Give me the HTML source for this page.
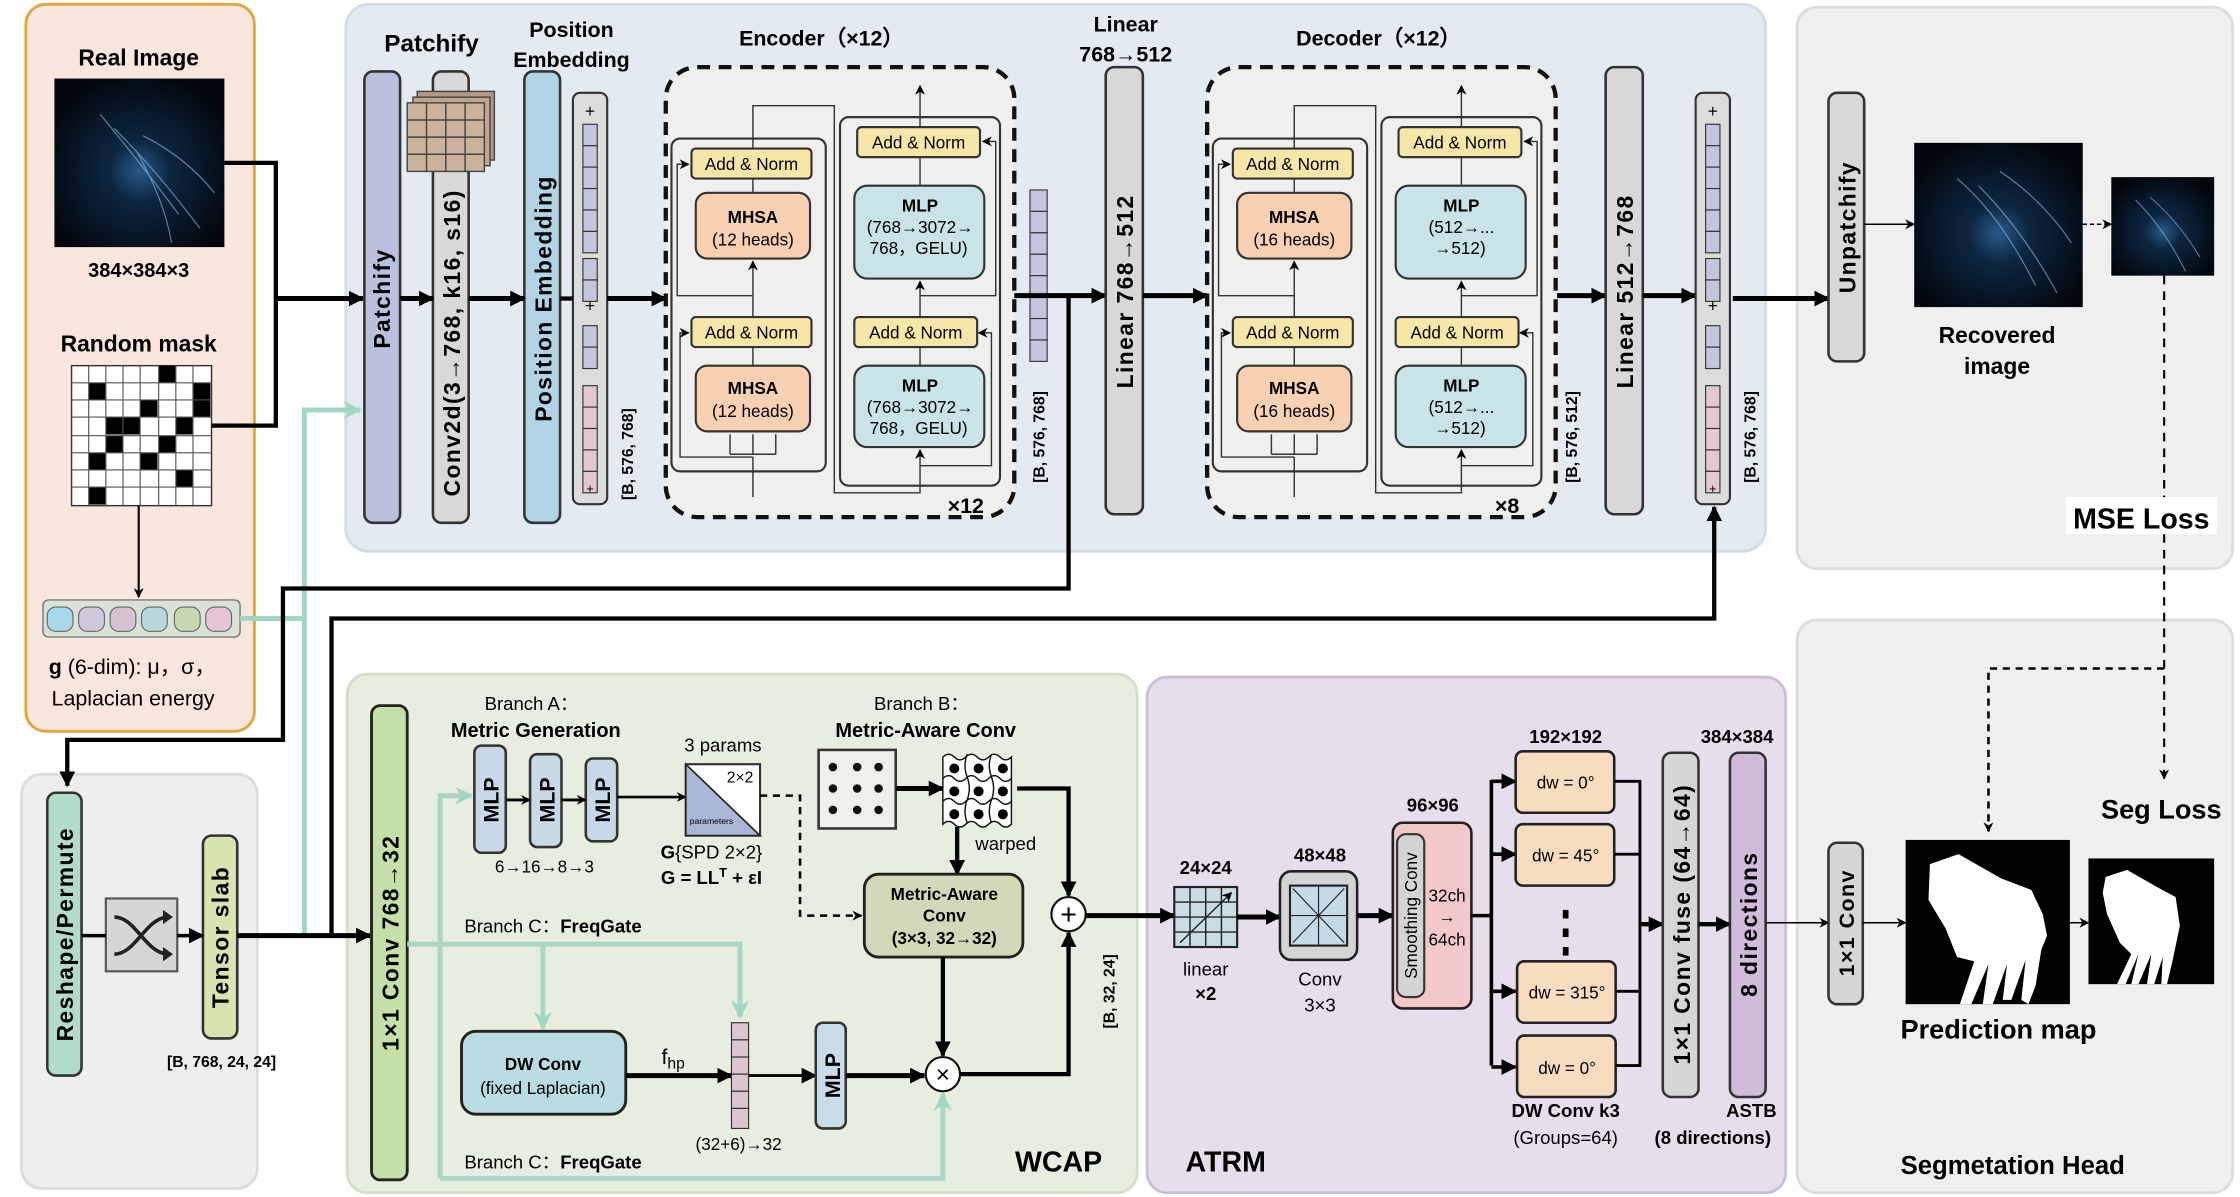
<!DOCTYPE html>
<html><head><meta charset="utf-8"><style>
html,body{margin:0;padding:0;background:#fff;}
svg{display:block;font-family:"Liberation Sans",Arial,sans-serif;}
.b{font-weight:bold;}
</style></head><body>
<svg width="2240" height="1197" viewBox="0 0 1568 838" xmlns="http://www.w3.org/2000/svg">
<defs>
<marker id="A" viewBox="0 0 10 10" refX="9" refY="5" markerWidth="11" markerHeight="11" markerUnits="userSpaceOnUse" orient="auto"><path d="M0,0 L10,5 L0,10 z" fill="#000"/></marker>
<marker id="a" viewBox="0 0 10 10" refX="9" refY="5" markerWidth="7" markerHeight="7" markerUnits="userSpaceOnUse" orient="auto"><path d="M0,0 L10,5 L0,10 L3,5 z" fill="#000"/></marker>
<marker id="G" viewBox="0 0 10 10" refX="9" refY="5" markerWidth="13" markerHeight="13" markerUnits="userSpaceOnUse" orient="auto"><path d="M0,0 L10,5 L0,10 L3,5 z" fill="#9fd8c2"/></marker>
<radialGradient id="jg" cx="0.5" cy="0.55" r="0.6"><stop offset="0" stop-color="#2a5a8a"/><stop offset="0.3" stop-color="#0c2640"/><stop offset="1" stop-color="#02060c"/></radialGradient>
</defs>

<!-- panels -->
<rect x="18" y="3" width="160" height="509" rx="14" fill="#fae6dc" stroke="#e2a63a" stroke-width="2"/>
<rect x="242" y="3" width="994" height="383" rx="16" fill="#e3eaf2" stroke="#d3dde8" stroke-width="2"/>
<rect x="1258" y="5" width="305" height="393" rx="14" fill="#eeefee" stroke="#dcdcdc" stroke-width="2"/>
<rect x="15" y="542" width="165" height="290" rx="14" fill="#efeeee" stroke="#dcdcdc" stroke-width="2"/>
<rect x="243" y="472" width="553" height="363" rx="14" fill="#e8eedf" stroke="#d4dfc6" stroke-width="2"/>
<rect x="803" y="474" width="447" height="361" rx="14" fill="#e6dded" stroke="#cbbfd6" stroke-width="2"/>
<rect x="1258" y="434" width="305" height="401" rx="14" fill="#eeefee" stroke="#dcdcdc" stroke-width="2"/>

<!-- input panel -->
<text x="97" y="46" class="b" font-size="16" text-anchor="middle">Real Image</text>
<rect x="38" y="55" width="119" height="118" fill="url(#jg)"/>
<g stroke="#9cc8e8" stroke-width="0.8" fill="none" opacity="0.6">
<path d="M70,80 Q95,110 125,150 M80,90 Q110,120 140,160 M95,105 Q115,140 120,170 M100,95 Q130,110 150,135"/>
</g>
<text x="97" y="194" class="b" font-size="14" text-anchor="middle">384×384×3</text>
<text x="97" y="246" class="b" font-size="16" text-anchor="middle">Random mask</text>
<g>
<rect x="50" y="256" width="98" height="98" fill="#fff" stroke="#333"/>
<g fill="#000">
<rect x="111" y="256" width="12.2" height="12.2"/>
<rect x="62" y="268" width="12.2" height="12.2"/>
<rect x="135" y="268" width="12.2" height="12.2"/>
<rect x="98" y="280" width="12.2" height="12.2"/>
<rect x="135" y="280" width="12.2" height="12.2"/>
<rect x="74" y="292" width="12.2" height="12.2"/>
<rect x="86" y="292" width="12.2" height="12.2"/>
<rect x="123" y="292" width="12.2" height="12.2"/>
<rect x="74" y="305" width="12.2" height="12.2"/>
<rect x="111" y="305" width="12.2" height="12.2"/>
<rect x="98" y="317" width="12.2" height="12.2"/>
<rect x="62" y="317" width="12.2" height="12.2"/>
<rect x="123" y="329" width="12.2" height="12.2"/>
<rect x="62" y="341" width="12.2" height="12.2"/>
</g>
<g stroke="#555" stroke-width="0.8">
<path d="M62,256V354M74,256V354M86,256V354M98,256V354M111,256V354M123,256V354M135,256V354"/>
<path d="M50,268H148M50,280H148M50,292H148M50,305H148M50,317H148M50,329H148M50,341H148"/>
</g>
</g>
<line x1="97" y1="354" x2="97" y2="418" stroke="#000" stroke-width="1.5" marker-end="url(#a)"/>
<rect x="30" y="420" width="138" height="26" rx="4" fill="#d8e2d6" stroke="#777"/>
<g stroke="#666" stroke-width="0.8">
<rect x="33" y="425" width="18" height="17" rx="6" fill="#a8d8ec"/>
<rect x="55" y="425" width="18" height="17" rx="6" fill="#d0c8dc"/>
<rect x="77" y="425" width="18" height="17" rx="6" fill="#d8c0d4"/>
<rect x="99" y="425" width="18" height="17" rx="6" fill="#b8d8dc"/>
<rect x="122" y="425" width="18" height="17" rx="6" fill="#c8d8b0"/>
<rect x="144" y="425" width="18" height="17" rx="6" fill="#e8c4d4"/>
</g>
<text x="34" y="472" font-size="15"><tspan class="b">g</tspan> (6-dim): μ，σ，</text>
<text x="36" y="494" font-size="15">Laplacian energy</text>

<!-- connections from input -->
<path d="M157,114 H193 V298 H148" fill="none" stroke="#000" stroke-width="3"/>
<line x1="193" y1="209" x2="254" y2="209" stroke="#000" stroke-width="3.5" marker-end="url(#A)"/>
<path d="M168,433 H213 V287 H252" fill="none" stroke="#9fd8c2" stroke-width="3.5" marker-end="url(#G)"/>
<path d="M213,433 V655" fill="none" stroke="#9fd8c2" stroke-width="3.5"/>

<!-- Patchify etc -->
<text x="302" y="36" class="b" font-size="17" text-anchor="middle">Patchify</text>
<text x="400" y="26" class="b" font-size="15" text-anchor="middle">Position</text>
<text x="400" y="47" class="b" font-size="15" text-anchor="middle">Embedding</text>
<rect x="255" y="50" width="25" height="316" rx="6" fill="#b8c0dc" stroke="#333" stroke-width="1.8"/>
<text transform="translate(273,209) rotate(-90)" class="b" font-size="16" text-anchor="middle" letter-spacing="1">Patchify</text>
<rect x="303" y="50" width="25" height="316" rx="6" fill="#d8d8d8" stroke="#333" stroke-width="1.8"/>
<text transform="translate(322,240) rotate(-90)" class="b" font-size="16" text-anchor="middle" letter-spacing="1">Conv2d(3→768, k16, s16)</text>
<g stroke="#444" stroke-width="1">
<rect x="292" y="64" width="54" height="48" fill="#b49a84"/>
<rect x="289" y="68" width="54" height="48" fill="#c0a690"/>
<rect x="285" y="72" width="54" height="48" fill="#cbb29a"/>
<path d="M298.5,72V120M312,72V120M325.5,72V120M285,84H339M285,96H339M285,108H339" fill="none"/>
</g>
<rect x="367" y="50" width="25" height="316" rx="6" fill="#b0d4e6" stroke="#333" stroke-width="1.8"/>
<text transform="translate(386,209) rotate(-90)" class="b" font-size="16" text-anchor="middle" letter-spacing="1">Position Embedding</text>
<line x1="280" y1="209" x2="303" y2="209" stroke="#000" stroke-width="3.5" marker-end="url(#A)"/>
<line x1="328" y1="209" x2="367" y2="209" stroke="#000" stroke-width="3.5" marker-end="url(#A)"/>

<!-- token column 1 -->
<g id="tok">
<rect x="401" y="65" width="24" height="288" rx="5" fill="#dcdcdc" stroke="#333" stroke-width="1.5"/>
<text x="413" y="82" font-size="12" text-anchor="middle">+</text>
<g stroke="#333" stroke-width="0.8" fill="#c4c6de">
<rect x="408" y="87" width="10" height="15"/><rect x="408" y="102" width="10" height="15"/><rect x="408" y="117" width="10" height="15"/><rect x="408" y="132" width="10" height="15"/><rect x="408" y="147" width="10" height="15"/><rect x="408" y="162" width="10" height="15"/>
<rect x="408" y="181" width="10" height="15"/><rect x="408" y="196" width="10" height="15"/>
<rect x="408" y="228" width="10" height="15"/><rect x="408" y="243" width="10" height="15"/>
</g>
<text x="413" y="218" font-size="12" text-anchor="middle">+</text>
<g stroke="#333" stroke-width="0.8" fill="#e2c8d4">
<rect x="408" y="270" width="10" height="15"/><rect x="408" y="285" width="10" height="15"/><rect x="408" y="300" width="10" height="15"/><rect x="408" y="315" width="10" height="15"/><rect x="408" y="330" width="10" height="15"/>
</g>
<text x="413" y="345" font-size="9" text-anchor="middle">+</text>
</g>
<text transform="translate(443,350) rotate(-90)" class="b" font-size="11">[B, 576, 768]</text>
<line x1="425" y1="209" x2="466" y2="209" stroke="#000" stroke-width="3.5" marker-end="url(#A)"/>
<line x1="392" y1="209" x2="401" y2="209" stroke="#000" stroke-width="3"/>

<!-- Encoder -->
<text x="575" y="32" class="b" font-size="15" text-anchor="middle">Encoder（×12）</text>
<g id="enc">
<rect x="466" y="47" width="244" height="315" rx="22" fill="#efefee" stroke="#111" stroke-width="3" stroke-dasharray="9,6"/>
<rect x="470" y="97" width="108" height="233" rx="6" fill="none" stroke="#333" stroke-width="1.5"/>
<rect x="588" y="82" width="112" height="258" rx="6" fill="none" stroke="#333" stroke-width="1.5"/>
<g fill="none" stroke="#333" stroke-width="1">
<path d="M527,348 V320"/>
<path d="M511,318 V304 M527,318 V304 M543,318 V304 M511,318 H543"/>
<path d="M527,320 H476 V233 H482" marker-end="url(#a)"/>
<path d="M527,256 V243 M527,222 V183" marker-end="url(#a)"/>
<path d="M527,207 H474 V115 H482" marker-end="url(#a)"/>
<path d="M527,135 V125 M527,104 V74 H584 V345 H644 V315" marker-end="url(#a)"/>
<path d="M644,326 H694 V233 H685" marker-end="url(#a)"/>
<path d="M644,256 V243 M644,222 V197" marker-end="url(#a)"/>
<path d="M644,207 H697 V99 H688" marker-end="url(#a)"/>
<path d="M644,130 V110 M644,89 V60" marker-end="url(#a)"/>
</g>
<g stroke="#333" stroke-width="1.5">
<rect x="484" y="104" width="84" height="21" rx="3" fill="#f8e6a8"/>
<rect x="484" y="222" width="84" height="21" rx="3" fill="#f8e6a8"/>
<rect x="600" y="89" width="86" height="21" rx="3" fill="#f8e6a8"/>
<rect x="598" y="222" width="86" height="21" rx="3" fill="#f8e6a8"/>
<rect x="487" y="135" width="80" height="46" rx="8" fill="#f8d0b2"/>
<rect x="487" y="256" width="80" height="46" rx="8" fill="#f8d0b2"/>
<rect x="598" y="130" width="91" height="65" rx="9" fill="#c8e4e8"/>
<rect x="598" y="256" width="91" height="57" rx="9" fill="#c8e4e8"/>
</g>
<g font-size="12" text-anchor="middle">
<text x="526" y="119">Add &amp; Norm</text>
<text x="526" y="237">Add &amp; Norm</text>
<text x="643" y="104">Add &amp; Norm</text>
<text x="641" y="237">Add &amp; Norm</text>
</g>
</g>
<g font-size="12" text-anchor="middle">
<text x="527" y="156" class="b">MHSA</text><text x="527" y="172">(12 heads)</text>
<text x="527" y="276" class="b">MHSA</text><text x="527" y="292">(12 heads)</text>
<text x="644" y="148" class="b">MLP</text><text x="644" y="163">(768→3072→</text><text x="643" y="178">768，GELU)</text>
<text x="644" y="274" class="b">MLP</text><text x="644" y="289">(768→3072→</text><text x="643" y="304">768，GELU)</text>
</g>
<text x="676" y="359" class="b" font-size="15" text-anchor="middle">×12</text>

<!-- mid token col -->
<g stroke="#333" stroke-width="0.8" fill="#c4c6de">
<rect x="721" y="133" width="12" height="15"/><rect x="721" y="148" width="12" height="15"/><rect x="721" y="163" width="12" height="15"/><rect x="721" y="178" width="12" height="15"/><rect x="721" y="193" width="12" height="15"/><rect x="721" y="208" width="12" height="15"/><rect x="721" y="223" width="12" height="15"/><rect x="721" y="238" width="12" height="15"/>
</g>
<text transform="translate(731,338) rotate(-90)" class="b" font-size="11">[B, 576, 768]</text>
<line x1="710" y1="207" x2="774" y2="207" stroke="#000" stroke-width="3.5" marker-end="url(#A)"/>

<text x="788" y="22" class="b" font-size="15" text-anchor="middle">Linear</text>
<text x="788" y="43" class="b" font-size="15" text-anchor="middle">768→512</text>
<rect x="774" y="47" width="26" height="313" rx="6" fill="#d8d8d8" stroke="#333" stroke-width="1.8"/>
<text transform="translate(793,204) rotate(-90)" class="b" font-size="16" text-anchor="middle" letter-spacing="1">Linear 768→512</text>
<line x1="800" y1="207" x2="845" y2="207" stroke="#000" stroke-width="3.5" marker-end="url(#A)"/>

<!-- Decoder -->
<text x="965" y="32" class="b" font-size="15" text-anchor="middle">Decoder（×12）</text>
<use href="#enc" transform="translate(379,0)"/>
<g font-size="12" text-anchor="middle">
<text x="906" y="156" class="b">MHSA</text><text x="906" y="172">(16 heads)</text>
<text x="906" y="276" class="b">MHSA</text><text x="906" y="292">(16 heads)</text>
<text x="1023" y="148" class="b">MLP</text><text x="1023" y="163">(512→...</text><text x="1022" y="178">→512)</text>
<text x="1023" y="274" class="b">MLP</text><text x="1023" y="289">(512→...</text><text x="1022" y="304">→512)</text>
</g>
<text x="1055" y="359" class="b" font-size="15" text-anchor="middle">×8</text>
<text transform="translate(1104,338) rotate(-90)" class="b" font-size="11">[B, 576, 512]</text>
<line x1="1090" y1="207" x2="1124" y2="207" stroke="#000" stroke-width="3.5" marker-end="url(#A)"/>
<rect x="1124" y="47" width="26" height="313" rx="6" fill="#d8d8d8" stroke="#333" stroke-width="1.8"/>
<text transform="translate(1143,204) rotate(-90)" class="b" font-size="16" text-anchor="middle" letter-spacing="1">Linear 512→768</text>
<line x1="1150" y1="207" x2="1187" y2="207" stroke="#000" stroke-width="3.5" marker-end="url(#A)"/>
<use href="#tok" transform="translate(786,0)"/>
<text transform="translate(1229,338) rotate(-90)" class="b" font-size="11">[B, 576, 768]</text>
<line x1="1213" y1="209" x2="1280" y2="209" stroke="#000" stroke-width="3.5" marker-end="url(#A)"/>

<!-- right top -->
<rect x="1280" y="65" width="25" height="188" rx="6" fill="#d8d8d8" stroke="#333" stroke-width="1.8"/>
<text transform="translate(1299,159) rotate(-90)" class="b" font-size="16" text-anchor="middle" letter-spacing="1">Unpatchify</text>
<line x1="1305" y1="157" x2="1340" y2="157" stroke="#000" stroke-width="1" marker-end="url(#a)"/>
<rect x="1340" y="100" width="118" height="115" fill="url(#jg)"/>
<g stroke="#9cc8e8" stroke-width="0.8" fill="none" opacity="0.6"><path d="M1370,125 Q1400,150 1425,200 M1385,130 Q1415,160 1440,205 M1400,120 Q1430,140 1450,170"/></g>
<line x1="1458" y1="157" x2="1478" y2="157" stroke="#000" stroke-width="1" stroke-dasharray="3,2" marker-end="url(#a)"/>
<rect x="1478" y="124" width="72" height="69" fill="url(#jg)"/>
<g stroke="#9cc8e8" stroke-width="0.7" fill="none" opacity="0.6"><path d="M1495,140 Q1515,160 1530,190 M1505,138 Q1525,155 1540,180"/></g>
<text x="1398" y="240" class="b" font-size="16" text-anchor="middle">Recovered</text>
<text x="1398" y="262" class="b" font-size="16" text-anchor="middle">image</text>
<rect x="1446" y="348" width="106" height="26" fill="#fff"/>
<text x="1499" y="370" class="b" font-size="20" text-anchor="middle">MSE Loss</text>
<path d="M1515,193 V348 M1515,374 V545" fill="none" stroke="#000" stroke-width="1.5" stroke-dasharray="6,5" marker-end="url(#a)"/>
<path d="M1515,468 H1392 V582" fill="none" stroke="#000" stroke-width="1.8" stroke-dasharray="5,4" marker-end="url(#a)"/>

<!-- long black lines -->
<path d="M748,207 V412 H198 V518 H47 V550" fill="none" stroke="#000" stroke-width="3" marker-end="url(#A)"/>
<path d="M232,655 V433 H1200 V355" fill="none" stroke="#000" stroke-width="3" marker-end="url(#A)"/>

<!-- left bottom -->
<rect x="33" y="555" width="24" height="198" rx="6" fill="#b0dcc8" stroke="#333" stroke-width="1.8"/>
<text transform="translate(51,654) rotate(-90)" class="b" font-size="16" text-anchor="middle" letter-spacing="1">Reshape/Permute</text>
<rect x="74" y="629" width="50" height="51" fill="#d6d6d6" stroke="#555" stroke-width="1.5"/>
<path d="M80,642 C95,642 102,668 118,668 M80,668 C95,668 102,642 118,642" fill="none" stroke="#222" stroke-width="2.5"/>
<path d="M114,637 L121,642 L114,647 Z M114,663 L121,668 L114,673 Z" fill="#222"/>
<rect x="142" y="585" width="24" height="142" rx="6" fill="#d8e4b0" stroke="#333" stroke-width="1.8"/>
<text transform="translate(160,656) rotate(-90)" class="b" font-size="16" text-anchor="middle" letter-spacing="1">Tensor slab</text>
<text x="155" y="747" class="b" font-size="11" text-anchor="middle">[B, 768, 24, 24]</text>
<line x1="57" y1="655" x2="74" y2="655" stroke="#000" stroke-width="2.5"/>
<line x1="124" y1="655" x2="142" y2="655" stroke="#000" stroke-width="2.5" marker-end="url(#A)"/>
<line x1="166" y1="655" x2="259" y2="655" stroke="#000" stroke-width="3.5" marker-end="url(#A)"/>

<!-- WCAP -->
<rect x="260" y="494" width="25" height="332" rx="6" fill="#c4e0a8" stroke="#222" stroke-width="2"/>
<text transform="translate(279,660) rotate(-90)" class="b" font-size="16" text-anchor="middle" letter-spacing="1">1×1 Conv 768→32</text>
<g fill="none" stroke="#a8d8c4" stroke-width="3.5">
<path d="M285,661 H518 V712" marker-end="url(#G)"/>
<path d="M380,661 V720" marker-end="url(#G)"/>
<path d="M308,825 V557 H330" marker-end="url(#G)"/>
<path d="M308,825 H660 V766" marker-end="url(#G)"/>
</g>
<text x="372" y="497" font-size="13" text-anchor="middle">Branch A：</text>
<text x="375" y="516" class="b" font-size="14" text-anchor="middle">Metric Generation</text>
<g stroke="#333" stroke-width="1.8" fill="#c8d8e8">
<rect x="332" y="522" width="22" height="75" rx="5"/>
<rect x="371" y="528" width="22" height="65" rx="5"/>
<rect x="410" y="531" width="22" height="58" rx="5"/>
</g>
<g class="b" font-size="15" text-anchor="middle">
<text transform="translate(349,560) rotate(-90)">MLP</text>
<text transform="translate(388,560) rotate(-90)">MLP</text>
<text transform="translate(427,560) rotate(-90)">MLP</text>
</g>
<line x1="354" y1="560" x2="371" y2="560" stroke="#000" stroke-width="2" marker-end="url(#a)"/>
<line x1="393" y1="560" x2="410" y2="560" stroke="#000" stroke-width="2" marker-end="url(#a)"/>
<line x1="432" y1="558" x2="480" y2="558" stroke="#000" stroke-width="1.8" marker-end="url(#a)"/>
<text x="381" y="611" font-size="12" text-anchor="middle">6→16→8→3</text>
<text x="506" y="526" font-size="13" text-anchor="middle">3 params</text>
<rect x="480" y="535" width="52" height="50" fill="#fff" stroke="#333" stroke-width="1.5"/>
<path d="M480,535 L532,585 L480,585 Z" fill="#aab6d6" stroke="#222" stroke-width="1.2"/>
<text x="518" y="548" font-size="11" text-anchor="middle">2×2</text>
<text x="498" y="577" font-size="6" text-anchor="middle">parameters</text>
<text x="498" y="601" font-size="13" text-anchor="middle"><tspan class="b">G</tspan>{SPD 2×2}</text>
<text x="498" y="619" class="b" font-size="13" text-anchor="middle">G = LL<tspan dy="-5" font-size="9">T</tspan><tspan dy="5"> + εI</tspan></text>
<path d="M532,557 H560 V641 H603" fill="none" stroke="#000" stroke-width="1.8" stroke-dasharray="5,4" marker-end="url(#a)"/>

<text x="645" y="497" font-size="13" text-anchor="middle">Branch B：</text>
<text x="648" y="516" class="b" font-size="14" text-anchor="middle">Metric-Aware Conv</text>
<rect x="573" y="525" width="54" height="55" fill="#eef0ea" stroke="#333" stroke-width="1.8"/>
<g fill="#111">
<circle cx="583" cy="537" r="3"/><circle cx="600" cy="537" r="3"/><circle cx="615" cy="537" r="3"/>
<circle cx="583" cy="552" r="3"/><circle cx="600" cy="552" r="3"/><circle cx="615" cy="552" r="3"/>
<circle cx="583" cy="567" r="3"/><circle cx="600" cy="567" r="3"/><circle cx="615" cy="567" r="3"/>
</g>
<line x1="627" y1="552" x2="660" y2="552" stroke="#000" stroke-width="3.5" marker-end="url(#A)"/>
<g fill="#fff" stroke="#111" stroke-width="1">
<path d="M660,530 q4,-4 8,0 t8,0 t8,0 t8,0 t8,0 t8,0 V577 q-4,4 -8,0 t-8,0 t-8,0 t-8,0 t-8,0 t-8,0 Z"/>
<path d="M677,528 q-3,8 0,16 t0,16 t0,16 M694,528 q-3,8 0,16 t0,16 t0,16 M660,545 q4,-4 8,0 t8,0 t8,0 t8,0 t8,0 t8,0 M660,561 q4,-4 8,0 t8,0 t8,0 t8,0 t8,0 t8,0" fill="none"/>
</g>
<g fill="#000">
<circle cx="668" cy="538" r="3.5"/><circle cx="685" cy="538" r="3.5"/><circle cx="702" cy="538" r="3.5"/>
<circle cx="668" cy="554" r="3.5"/><circle cx="685" cy="554" r="3.5"/><circle cx="702" cy="554" r="3.5"/>
<circle cx="668" cy="570" r="3.5"/><circle cx="685" cy="570" r="3.5"/><circle cx="702" cy="570" r="3.5"/>
</g>
<text x="704" y="595" font-size="13" text-anchor="middle">warped</text>
<line x1="670" y1="579" x2="670" y2="612" stroke="#000" stroke-width="3" marker-end="url(#A)"/>
<path d="M712,552 H748 V627" fill="none" stroke="#000" stroke-width="3" marker-end="url(#A)"/>
<rect x="605" y="612" width="111" height="58" rx="10" fill="#d4d8b8" stroke="#222" stroke-width="2"/>
<text x="661" y="630" class="b" font-size="12" text-anchor="middle">Metric-Aware</text>
<text x="661" y="645" class="b" font-size="12" text-anchor="middle">Conv</text>
<text x="661" y="661" class="b" font-size="12" text-anchor="middle">(3×3, 32→32)</text>
<circle cx="748" cy="640" r="12" fill="#fff" stroke="#111" stroke-width="1.5"/>
<text x="748" y="647" font-size="20" text-anchor="middle">+</text>
<line x1="660" y1="670" x2="660" y2="739" stroke="#000" stroke-width="3" marker-end="url(#A)"/>
<circle cx="660" cy="752" r="12" fill="#fff" stroke="#111" stroke-width="1.5"/>
<text x="660" y="758" font-size="17" text-anchor="middle">×</text>
<path d="M672,752 H748 V653" fill="none" stroke="#000" stroke-width="3" marker-end="url(#A)"/>
<line x1="760" y1="641" x2="822" y2="641" stroke="#000" stroke-width="3.5" marker-end="url(#A)"/>
<text transform="translate(780,720) rotate(-90)" class="b" font-size="11">[B, 32, 24]</text>

<text x="325" y="653" font-size="13">Branch C：<tspan class="b">FreqGate</tspan></text>
<rect x="323" y="722" width="115" height="58" rx="10" fill="#b8dce2" stroke="#222" stroke-width="2"/>
<text x="380" y="749" class="b" font-size="12" text-anchor="middle">DW Conv</text>
<text x="380" y="766" font-size="12" text-anchor="middle">(fixed Laplacian)</text>
<text x="463" y="745" font-size="15">f<tspan font-size="11" dy="3">hp</tspan></text>
<line x1="438" y1="753" x2="512" y2="753" stroke="#000" stroke-width="3.5" marker-end="url(#A)"/>
<g stroke="#333" stroke-width="0.8" fill="#dcc4d0">
<rect x="512" y="716" width="12" height="12"/><rect x="512" y="728" width="12" height="12"/><rect x="512" y="740" width="12" height="12"/><rect x="512" y="752" width="12" height="12"/><rect x="512" y="764" width="12" height="12"/><rect x="512" y="776" width="12" height="14"/>
</g>
<line x1="524" y1="753" x2="571" y2="753" stroke="#000" stroke-width="2" marker-end="url(#A)"/>
<rect x="571" y="716" width="21" height="74" rx="5" fill="#c8dcec" stroke="#333" stroke-width="1.8"/>
<text transform="translate(588,753) rotate(-90)" class="b" font-size="15" text-anchor="middle">MLP</text>
<line x1="592" y1="753" x2="647" y2="753" stroke="#000" stroke-width="3.5" marker-end="url(#A)"/>
<text x="517" y="805" font-size="12" text-anchor="middle">(32+6)→32</text>
<text x="325" y="818" font-size="13">Branch C：<tspan class="b">FreqGate</tspan></text>
<text x="741" y="820" class="b" font-size="20" text-anchor="middle">WCAP</text>

<!-- ATRM -->
<text x="844" y="612" class="b" font-size="13" text-anchor="middle">24×24</text>
<rect x="822" y="621" width="44" height="42" fill="#c8dce6" stroke="#222" stroke-width="1.5"/>
<path d="M833,621V663M844,621V663M855,621V663M822,631.5H866M822,642H866M822,652.5H866" stroke="#222" stroke-width="1"/>
<line x1="826" y1="660" x2="862" y2="625" stroke="#222" stroke-width="1" marker-end="url(#a)"/>
<text x="844" y="683" font-size="13" text-anchor="middle">linear</text>
<text x="844" y="700" class="b" font-size="13" text-anchor="middle">×2</text>
<line x1="866" y1="642" x2="896" y2="642" stroke="#000" stroke-width="3.5" marker-end="url(#A)"/>
<text x="924" y="603" class="b" font-size="13" text-anchor="middle">48×48</text>
<rect x="896" y="610" width="54" height="62" rx="8" fill="#d4d4d4" stroke="#222" stroke-width="1.8"/>
<rect x="903" y="620" width="40" height="42" fill="#c4dae6" stroke="#222" stroke-width="1.5"/>
<path d="M923,620V662M903,641H943M905,622L941,660M941,622L905,660" stroke="#222" stroke-width="0.8"/>
<text x="924" y="690" font-size="13" text-anchor="middle">Conv</text>
<text x="924" y="708" font-size="13" text-anchor="middle">3×3</text>
<line x1="950" y1="641" x2="975" y2="641" stroke="#000" stroke-width="3.5" marker-end="url(#A)"/>
<text x="1003" y="568" class="b" font-size="13" text-anchor="middle">96×96</text>
<rect x="975" y="576" width="55" height="130" rx="7" fill="#f2c8c8" stroke="#222" stroke-width="1.8"/>
<rect x="978" y="584" width="19" height="114" rx="6" fill="#d4d4d4" stroke="#333" stroke-width="1.5"/>
<text transform="translate(992,641) rotate(-90)" font-size="12" text-anchor="middle">Smoothing Conv</text>
<text x="1013" y="631" font-size="12" text-anchor="middle">32ch</text>
<text x="1013" y="646" font-size="12" text-anchor="middle">→</text>
<text x="1013" y="662" font-size="12" text-anchor="middle">64ch</text>
<line x1="1030" y1="641" x2="1044" y2="641" stroke="#000" stroke-width="2.5"/>
<path d="M1044,546 V746" stroke="#000" stroke-width="2.5"/>
<g stroke="#000" stroke-width="2.5" marker-end="url(#A)">
<line x1="1044" y1="547" x2="1061" y2="547"/>
<line x1="1044" y1="598" x2="1061" y2="598"/>
<line x1="1044" y1="694" x2="1061" y2="694"/>
<line x1="1044" y1="747" x2="1061" y2="747"/>
</g>
<text x="1096" y="520" class="b" font-size="13" text-anchor="middle">192×192</text>
<g stroke="#222" stroke-width="1.8" fill="#f8dcc0">
<rect x="1061" y="526" width="69" height="43" rx="5"/>
<rect x="1061" y="577" width="69" height="43" rx="5"/>
<rect x="1062" y="673" width="69" height="43" rx="5"/>
<rect x="1062" y="725" width="69" height="43" rx="5"/>
</g>
<g font-size="12" text-anchor="middle">
<text x="1096" y="552">dw = 0°</text>
<text x="1096" y="603">dw = 45°</text>
<text x="1097" y="699">dw = 315°</text>
<text x="1097" y="752">dw = 0°</text>
</g>
<g fill="#000"><rect x="1094" y="637" width="4" height="6"/><rect x="1094" y="650" width="4" height="6"/><rect x="1094" y="663" width="4" height="6"/></g>
<path d="M1130,547 H1148 V746 H1131 M1130,598 H1148 M1131,694 H1148" fill="none" stroke="#000" stroke-width="2"/>
<line x1="1148" y1="647" x2="1164" y2="647" stroke="#000" stroke-width="3" marker-end="url(#A)"/>
<rect x="1164" y="527" width="25" height="241" rx="6" fill="#d6d6d6" stroke="#333" stroke-width="1.8"/>
<text transform="translate(1183,647) rotate(-90)" class="b" font-size="16" text-anchor="middle" letter-spacing="1">1×1 Conv fuse  (64→64)</text>
<line x1="1189" y1="647" x2="1211" y2="647" stroke="#000" stroke-width="3" marker-end="url(#A)"/>
<text x="1216" y="520" class="b" font-size="13" text-anchor="middle">384×384</text>
<rect x="1211" y="527" width="25" height="241" rx="6" fill="#d0bcd8" stroke="#333" stroke-width="1.8"/>
<text transform="translate(1230,647) rotate(-90)" class="b" font-size="16" text-anchor="middle" letter-spacing="1">8 directions</text>
<text x="1096" y="782" class="b" font-size="13" text-anchor="middle">DW Conv k3</text>
<text x="1096" y="801" font-size="13" text-anchor="middle">(Groups=64)</text>
<text x="1226" y="782" class="b" font-size="13" text-anchor="middle">ASTB</text>
<text x="1199" y="801" class="b" font-size="13" text-anchor="middle">(8 directions)</text>
<text x="858" y="820" class="b" font-size="20" text-anchor="middle">ATRM</text>

<!-- seg head -->
<line x1="1236" y1="646" x2="1280" y2="646" stroke="#000" stroke-width="1" marker-end="url(#a)"/>
<rect x="1280" y="590" width="24" height="113" rx="6" fill="#d6d6d6" stroke="#333" stroke-width="1.8"/>
<text transform="translate(1298,646) rotate(-90)" class="b" font-size="15" text-anchor="middle" letter-spacing="1">1×1 Conv</text>
<line x1="1304" y1="646" x2="1334" y2="646" stroke="#000" stroke-width="1" marker-end="url(#a)"/>
<rect x="1334" y="588" width="115" height="115" fill="#000"/>
<path d="M1351,605 L1371,598 L1401,615 L1422,623 L1430,640 L1433,655 L1429,665 L1425,690 L1420,703 L1415,700 L1418,672 L1408,700 L1402,700 L1405,675 L1395,703 L1388,703 L1392,675 L1380,703 L1372,703 L1382,673 L1370,670 L1362,650 L1350,630 Z" fill="#fff"/>
<line x1="1449" y1="646" x2="1462" y2="646" stroke="#000" stroke-width="1" marker-end="url(#a)"/>
<rect x="1462" y="601" width="88" height="88" fill="#000"/>
<path d="M1474,614 L1489,609 L1510,621 L1523,628 L1526,648 L1521,672 L1517,689 L1513,689 L1514,670 L1508,689 L1503,689 L1506,668 L1497,689 L1492,689 L1497,668 L1488,689 L1482,689 L1492,668 L1484,660 L1475,640 L1472,625 Z" fill="#fff"/>
<text x="1399" y="727" class="b" font-size="19" text-anchor="middle">Prediction map</text>
<text x="1513" y="573" class="b" font-size="19" text-anchor="middle">Seg Loss</text>
<text x="1409" y="822" class="b" font-size="18" text-anchor="middle">Segmetation Head</text>
</svg>
</body></html>
